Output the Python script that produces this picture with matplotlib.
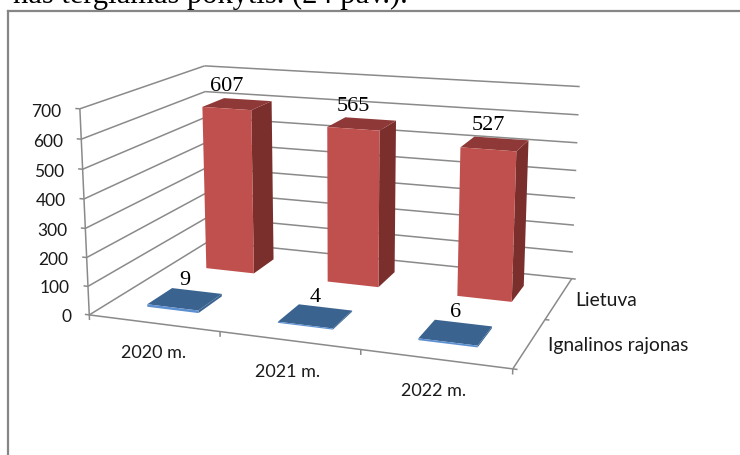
import numpy as np
import matplotlib
matplotlib.use("Agg")
import matplotlib.pyplot as plt
from matplotlib.lines import Line2D
from mpl_toolkits.mplot3d import proj3d

# ---- data ----
categories = ["2020 m.", "2021 m.", "2022 m."]
series_names = ["Ignalinos rajonas", "Lietuva"]
ignalina = [9, 4, 6]
lietuva = [607, 565, 527]
z_ticks = [0, 100, 200, 300, 400, 500, 600, 700]
caption = "nas tergiamas pokytis. (24 pav.)."

# ---- style ----
W, H_PX, DPI = 740, 455, 100
GRID = "#8a8a8a"
RED = {"front": "#C0504D", "top": "#8E3937", "side": "#7A2F2D"}
BLUE = {"front": "#5B8FD0", "top": "#3B6390", "side": "#3B6390"}
BAR_LO, BAR_HI = 0.30, 0.70
NONE = (0, 0, 0, 0)
TXT = "#1a1a1a"

# ---- camera calibration: axis-box corners/ticks -> picture position ----
calib = [
    ((0, 0, 0), (90, 315)), ((1, 0, 0), (220, 333)), ((2, 0, 0), (360, 351)),
    ((3, 0, 0), (512, 368)), ((3, 1, 0), (546, 319)), ((3, 2, 0), (572, 278)),
    ((0, 2, 0), (208, 241)), ((0, 0, 700), (80, 108)), ((0, 2, 700), (205, 66)),
    ((3, 2, 700), (580, 87)), ((3, 2, 500), (577, 143)), ((0, 0, 100), (89, 286)),
    ((0, 0, 300), (85, 228)), ((0, 0, 500), (82, 169)), ((0, 2, 600), (205, 92)),
]


def fit_camera(pairs):
    rows = []
    S = np.diag([1, 1, 1 / 700, 1.0])
    for (x, y, z), (u, v) in pairs:
        p = np.array([x, y, z / 700, 1.0])
        u, v = u / W, v / W
        rows.append(np.r_[p, 0 * p, -u * p])
        rows.append(np.r_[0 * p, p, -v * p])
    h = np.linalg.svd(np.array(rows))[2][-1].reshape(3, 4) @ S
    if h[2, 3] < 0:
        h = -h
    return np.diag([W, W, 1.0]) @ h


CAM = fit_camera(calib)

plt.rcParams["font.family"] = ["Lato", "DejaVu Sans"]
fig = plt.figure(figsize=(W / DPI, H_PX / DPI), dpi=DPI, facecolor="white")
side = W / H_PX
ax = fig.add_axes([0, (1 - side) / 2, 1, side], projection="3d")
ax.set_axis_off()
ax.set_xticks([])
ax.set_yticks([])
ax.set_zticks([])


def camera_proj():
    flip = np.array([[1, 0, 0], [0, -1, H_PX], [0, 0, 1.0]])
    P = ax.transData.inverted().get_matrix() @ flip @ CAM
    return np.vstack([P[0], P[1], [0, 0, 0, -1.0], P[2]])


ax.get_proj = camera_proj
ax.apply_aspect()


def seg(a, b):
    ax.plot(*zip(a, b), color=GRID, lw=1.1, solid_capstyle="butt")


labels = []


def label(x, y, z, s, **kw):
    labels.append((x, y, z, s, kw))


nx, ny = len(categories), len(series_names)
for v in z_ticks:
    seg((0, 0, v), (0, ny, v))
    seg((0, ny, v), (nx, ny, v))
    seg((-0.035, 0, v), (0, 0, v))
    label(-0.145, 0, v - 14, str(v), ha="right", va="center", fontsize=12.5, color=TXT)
seg((0, 0, 0), (0, 0, z_ticks[-1]))
seg((0, 0, 0), (nx, 0, 0))
seg((nx, 0, 0), (nx, ny, 0))
for i in range(nx + 1):
    seg((i, 0, 0), (i, 0, -18))
for j in range(ny + 1):
    seg((nx, j, 0), (nx + 0.03, j, 0))

for i, c in enumerate(categories):
    label(i + 0.49, 0, -106, c, ha="center", va="center", fontsize=13, color=TXT)
for j, s in enumerate(series_names):
    label(nx + 0.12, j + 0.5, 0, s, ha="left", va="center", fontsize=13.9, color=TXT)

for j, (vals, col, ly, up) in enumerate([(ignalina, BLUE, 0.5, 66), (lietuva, RED, 0.3, 80)]):
    for i, v in enumerate(vals):
        # face order: bottom, top, front, back, left, right
        ax.bar3d(i + BAR_LO, j + BAR_LO, 0, BAR_HI - BAR_LO, BAR_HI - BAR_LO, v,
                 color=[NONE, col["top"], col["front"], NONE, NONE, col["side"]],
                 shade=False, linewidth=0)
        label(i + 0.5, j + ly, v + up, str(v), ha="center", va="center", fontsize=16,
              family="Liberation Serif", color="black", zorder=100)

# text goes on the figure at the position the axes' own projection gives
ax.apply_aspect()
M = camera_proj()
for x, y, z, s, kw in labels:
    tx, ty, _ = proj3d.proj_transform(x, y, z, M)
    px, py = ax.transData.transform((tx, ty))
    fig.text(px / W, py / H_PX, s, **kw)

fig.add_artist(Line2D([8 / W, 8 / W], [0, 1 - 11 / H_PX], color="#868686", lw=1.6))
fig.add_artist(Line2D([8 / W, 1], [1 - 11 / H_PX] * 2, color="#868686", lw=1.6))
fig.text(408 / W, 1 - 3.5 / H_PX, caption, ha="right", va="baseline", fontsize=22,
         family="Liberation Serif", color="black")

fig.savefig("out.png", dpi=DPI)
